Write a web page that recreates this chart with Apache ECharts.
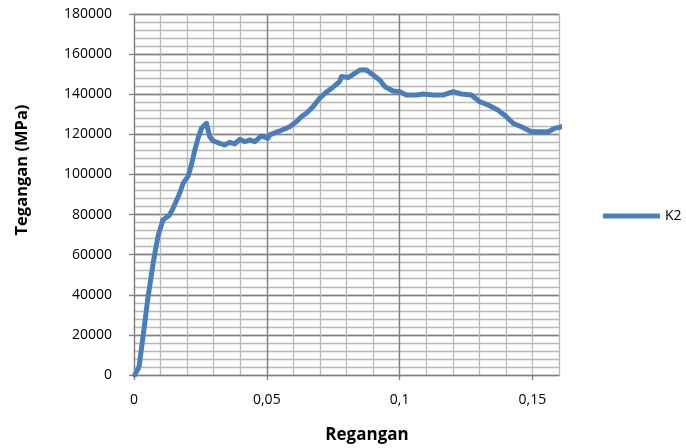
<!DOCTYPE html>
<html>
<head>
<meta charset="utf-8">
<script src="https://cdn.jsdelivr.net/npm/echarts@6/dist/echarts.min.js"></script>
<style>
html,body{margin:0;padding:0;background:#fff;}
#chart{width:686px;height:448px;}
</style>
</head>
<body>
<div id="chart"></div>
<script>
// Strain (Regangan) values
var strain = [0.0003,0.0019,0.0034,0.0053,0.0072,0.009,0.0109,0.0134,0.0147,0.0172,0.0185,0.0203,0.0216,0.0229,0.0241,0.0254,0.0265,0.0273,0.0285,0.0297,0.0323,0.0341,0.036,0.0379,0.0398,0.0417,0.0436,0.0454,0.048,0.0504,0.0511,0.0549,0.0586,0.0611,0.063,0.0649,0.0674,0.0699,0.0724,0.0749,0.0774,0.0781,0.0806,0.0831,0.085,0.0875,0.09,0.0925,0.0944,0.0975,0.1,0.1025,0.1063,0.1088,0.1126,0.1163,0.1201,0.1233,0.127,0.1301,0.1333,0.137,0.1402,0.1427,0.1458,0.1496,0.1527,0.1559,0.1584,0.1609];
// Stress (Tegangan) values, series K2
var stressK2 = [0,4100,19100,39000,55700,69000,77300,79800,83100,90600,95600,98900,104700,112200,118000,123000,124500,125500,118800,116800,115500,114700,116000,115200,117500,116300,117200,116300,119200,118000,119700,121700,123800,126300,128800,130500,133800,138000,141000,143500,146300,148800,148300,150400,152100,152100,149600,147100,143800,141600,141300,139600,139600,140100,139600,139600,141300,140100,139600,136300,134600,132100,128800,125500,123800,121300,121300,121300,123000,123800];
var seriesName = 'K2';
var xMajorTicks = [0, 0.05, 0.1, 0.15];
var xTitle = 'Regangan';
var yTitle = 'Tegangan (MPa)';

var data = strain.map(function(x, i){ return [x, stressK2[i]]; });
var FONT = '"Open Sans", "Liberation Sans", sans-serif';
var minorColor = '#b8b8b8';
var majorColor = '#7f7f7f';

var chart = echarts.init(document.getElementById('chart'));
chart.setOption({
  animation: false,
  backgroundColor: '#fff',
  grid: { left: 134, right: 127, top: 14, bottom: 73, containLabel: false },
  xAxis: [
    { type: 'value', min: 0, max: 0.16, interval: 0.01,
      axisLine: { show: false }, axisTick: { show: false }, axisLabel: { show: false },
      splitLine: { show: true, lineStyle: { color: minorColor, width: 1.3 } } },
    { type: 'value', min: 0, max: 0.16, interval: 0.05, position: 'bottom',
      axisLine: { show: true, lineStyle: { color: majorColor, width: 1.3 } },
      axisTick: { show: true, length: 5, inside: false, customValues: xMajorTicks, lineStyle: { color: majorColor, width: 1.3 } },
      axisLabel: { show: true, margin: 18, customValues: xMajorTicks, fontFamily: FONT, fontSize: 14, color: '#000',
        formatter: function(v){ var r = Math.round(v*100)/100; if (Math.abs(r*20 - Math.round(r*20))>1e-6) return ''; return String(r).replace('.', ','); } },
      splitLine: { show: true, showMinLine: false, showMaxLine: false, lineStyle: { color: majorColor, width: 1.3 } } }
  ],
  yAxis: [
    { type: 'value', min: 0, max: 180000, interval: 4000,
      axisLine: { show: false }, axisTick: { show: false }, axisLabel: { show: false },
      splitLine: { show: true, lineStyle: { color: minorColor, width: 1.3 } } },
    { type: 'value', min: 0, max: 180000, interval: 20000, position: 'left',
      axisLine: { show: true, lineStyle: { color: majorColor, width: 1.3 } },
      axisTick: { show: true, length: 5, lineStyle: { color: majorColor, width: 1.3 } },
      axisLabel: { margin: 22, fontFamily: FONT, fontSize: 14, color: '#000', formatter: function(v){ return String(v); } },
      splitLine: { show: true, showMinLine: false, lineStyle: { color: majorColor, width: 1.3 } } }
  ],
  legend: {
    data: [seriesName], left: 603, top: 209, padding: 0,
    icon: 'roundRect', itemWidth: 57, itemHeight: 5,
    textStyle: { fontFamily: FONT, fontSize: 14, color: '#000' }
  },
  graphic: [
    { type: 'text', x: 367, y: 435, style: { x: 0, y: 0, text: xTitle, font: 'bold 17px ' + FONT, fill: '#000', textAlign: 'center', textVerticalAlign: 'middle' } },
    { type: 'text', x: 22, y: 170, rotation: Math.PI/2, style: { x: 0, y: 0, text: yTitle, font: 'bold 16.5px ' + FONT, fill: '#000', textAlign: 'center', textVerticalAlign: 'middle' } }
  ],
  series: [{
    name: seriesName, type: 'line', xAxisIndex: 1, yAxisIndex: 1,
    data: data, showSymbol: false, symbol: 'none', smooth: false,
    lineStyle: { color: '#4a7ebb', width: 5, cap: 'round', join: 'round' },
    itemStyle: { color: '#4a7ebb' }, clip: true
  }]
});
</script>
</body>
</html>
